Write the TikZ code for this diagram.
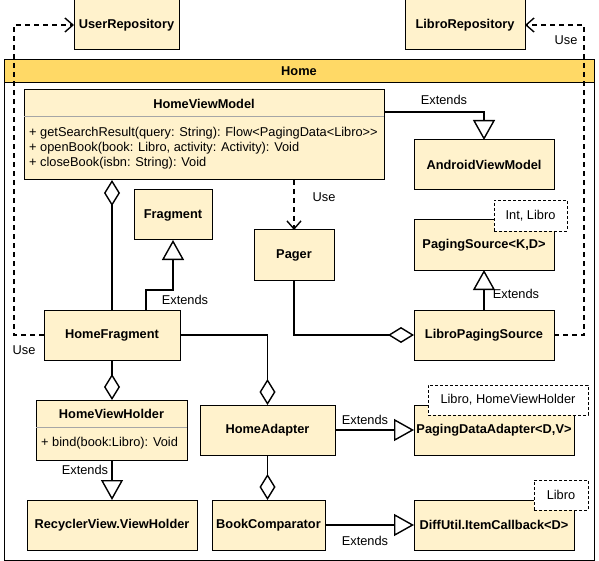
\documentclass[tikz,border=0pt]{standalone}
\usepackage{fontspec}
\setmainfont{Liberation Sans}
\usetikzlibrary{arrows.meta}
\definecolor{boxfill}{HTML}{FFF2CC}
\definecolor{hdrfill}{HTML}{FFD966}
\newcommand\mydiagfont{\fontsize{12.8}{15}\selectfont}
\tikzset{
  cls/.style={draw=black, line width=1pt, fill=boxfill, inner sep=0pt, outer sep=0pt, font=\mydiagfont\bfseries},
  tag/.style={draw=black, line width=0.8pt, dash pattern=on 3pt off 2pt, fill=white, inner sep=0pt, outer sep=0pt},
  lbl/.style={inner sep=0pt},
  conn/.style={line width=1.4pt, line join=miter},
  ext/.style={conn, -{Triangle[open, length=20pt, width=22pt, fill=white, line width=1.4pt]}},
  usedep/.style={conn, dash pattern=on 5pt off 4pt, -{Straight Barb[length=8pt, width=14pt, line width=1.4pt]}},
  aggstart/.style={conn, {Diamond[open, length=26pt, width=16pt, fill=white, line width=1.4pt]}-},
  aggend/.style={conn, -{Diamond[open, length=26pt, width=16pt, fill=white, line width=1.4pt]}},
}
\begin{document}
\begin{tikzpicture}[x=1pt, y=-1pt, font=\mydiagfont]
\useasboundingbox (0,0) rectangle (599,561);
% container
\node[draw=black, line width=1pt, fill=white, minimum width=590pt, minimum height=500pt, inner sep=0pt, outer sep=0pt] (home) at (299,310) {};
\node[draw=black, line width=1pt, fill=hdrfill, minimum width=590pt, minimum height=23pt, inner sep=0pt, outer sep=0pt, anchor=north, font=\mydiagfont\bfseries] (homehdr) at (home.north) {Home};
% repositories
\node[cls, minimum width=105pt, minimum height=50pt] (ur) at (126.5,25) {UserRepository};
\node[cls, minimum width=120pt, minimum height=50pt] (lr) at (465,25) {LibroRepository};
% HomeViewModel
\node[cls, minimum width=360pt, minimum height=90pt] (hvm) at (204,135) {};
\node[lbl, font=\mydiagfont\bfseries] (hvmt) at (204,103.5) {HomeViewModel};
\draw[gray!70, line width=1pt] ([yshift=-27pt]hvm.north west) -- ([yshift=-27pt]hvm.north east);
\node[lbl, anchor=west, align=left] (hvmm) at (29,148) {+ getSearchResult(query: String): Flow<PagingData<Libro>{}>\\+ openBook(book: Libro, activity: Activity): Void\\+ closeBook(isbn: String): Void};
% other classes
\node[cls, minimum width=140pt, minimum height=50pt] (avm) at (484,165) {AndroidViewModel};
\node[cls, minimum width=78pt, minimum height=50pt] (frag) at (173,215) {Fragment};
\node[cls, minimum width=80pt, minimum height=50pt] (pager) at (294,255) {Pager};
\node[cls, minimum width=140pt, minimum height=50pt] (ps) at (484,245) {PagingSource<K,D>};
\node[tag, minimum width=73pt, minimum height=31pt] (pstag) at (530.5,215.5) {Int, Libro};
\node[cls, minimum width=140pt, minimum height=50pt] (lps) at (484,335) {LibroPagingSource};
\node[cls, minimum width=136pt, minimum height=50pt] (hf) at (112,335) {HomeFragment};
% HomeViewHolder
\node[cls, minimum width=151pt, minimum height=60pt] (hvh) at (111.5,430) {};
\node[lbl, font=\mydiagfont\bfseries] (hvht) at (111.5,413.5) {HomeViewHolder};
\draw[gray!70, line width=1pt] ([yshift=-27pt]hvh.north west) -- ([yshift=-27pt]hvh.north east);
\node[lbl, anchor=west] (hvhm) at (41,443) {+ bind(book:Libro): Void};
\node[cls, minimum width=135pt, minimum height=50pt] (ha) at (267.5,430) {HomeAdapter};
\node[cls, minimum width=160pt, minimum height=50pt] (pda) at (494,430) {PagingDataAdapter<D,V>};
\node[tag, minimum width=160pt, minimum height=30pt] (pdatag) at (508,400) {Libro, HomeViewHolder};
\node[cls, minimum width=170pt, minimum height=50pt] (rv) at (112,525) {RecyclerView.ViewHolder};
\node[cls, minimum width=113pt, minimum height=50pt] (bc) at (268.5,525) {BookComparator};
\node[cls, minimum width=160pt, minimum height=50pt] (diff) at (494,525) {DiffUtil.ItemCallback<D>};
\node[tag, minimum width=54pt, minimum height=30pt] (difftag) at (561,495) {Libro};
% connectors
\draw[usedep] (hf.west) -- ++(-30,0) |- (ur.west);
\draw[usedep] (lps.east) -- ++(30,0) |- (lr.east);
\draw[ext] ([yshift=-22pt]hvm.north east) -| (avm.north);
\draw[usedep] (hvm.south -| pager.north) -- (pager.north);
\draw[ext] ([xshift=34pt]hf.north) -- ++(0,-20) -| (frag.south);
\draw[aggstart] (hvm.south -| hf.north) -- (hf.north);
\draw[aggend] (pager.south) |- (lps.west);
\draw[ext] (lps.north) -- (ps.south);
\draw[aggend] (hf.south) -- (hf.south |- hvh.north);
\draw[aggend] (hf.east) -| (ha.north);
\draw[ext] (ha.east) -- (pda.west);
\draw[aggend] (ha.south) -- (ha.south |- bc.north);
\draw[ext] (bc.east) -- (diff.west);
\draw[ext] (hvh.south -| rv.north) -- (rv.north);
% labels
\node[lbl] (l1) at (24,350) {Use};
\node[lbl] (l2) at (566,40) {Use};
\node[lbl] (l3) at (444,100) {Extends};
\node[lbl] (l4) at (324,197) {Use};
\node[lbl] (l5) at (185,300) {Extends};
\node[lbl] (l6) at (516,294) {Extends};
\node[lbl] (l7) at (85,470) {Extends};
\node[lbl] (l8) at (365,420) {Extends};
\node[lbl] (l9) at (365,541) {Extends};
\end{tikzpicture}
\end{document}
